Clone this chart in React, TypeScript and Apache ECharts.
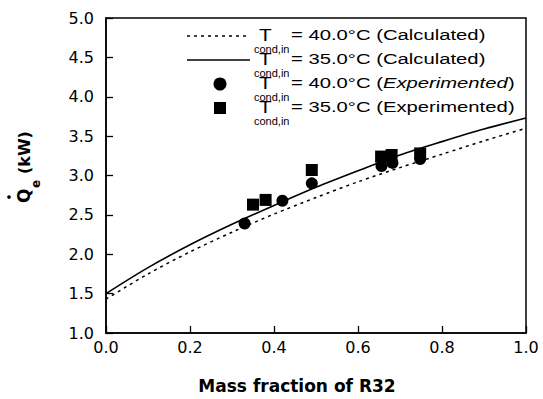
import React, { useEffect, useRef } from "react";
import * as echarts from "echarts";

// Calculated curves (mass fraction of R32 vs cooling capacity, kW)
const calcX = [0, 0.1, 0.2, 0.3, 0.4, 0.5, 0.6, 0.7, 0.8, 0.9, 1.0];
const calc40 = [1.43, 1.75, 2.03, 2.28, 2.51, 2.72, 2.92, 3.1, 3.27, 3.44, 3.6];
const calc35 = [1.5, 1.83, 2.12, 2.38, 2.62, 2.85, 3.06, 3.26, 3.43, 3.59, 3.73];

// Experimental points
const exp40X = [0.33, 0.42, 0.49, 0.656, 0.682, 0.748];
const exp40Y = [2.39, 2.68, 2.9, 3.12, 3.16, 3.21];
const exp35X = [0.35, 0.38, 0.49, 0.655, 0.68, 0.748];
const exp35Y = [2.63, 2.69, 3.07, 3.24, 3.26, 3.28];

const legendTexts = [
  "= 40.0°C (Calculated)",
  "= 35.0°C (Calculated)",
  "= 40.0°C (Experimented)",
  "= 35.0°C (Experimented)",
];

const FONT = "'Liberation Sans', Arial, Helvetica, sans-serif";
const WFONT = "'DejaVu Sans', Verdana, sans-serif";

export default function App() {
  const ref = useRef<HTMLDivElement>(null);

  useEffect(() => {
    if (!ref.current) return;
    const chart = echarts.init(ref.current, null, { renderer: "svg" });

    const rowY = [36, 60, 84, 108];
    const legendGraphics: any[] = [];
    legendGraphics.push({
      type: "line",
      shape: { x1: 187, y1: rowY[0], x2: 250, y2: rowY[0] },
      style: { stroke: "#000", lineWidth: 1.5, lineDash: [3, 4] },
    });
    legendGraphics.push({
      type: "line",
      shape: { x1: 187, y1: rowY[1], x2: 250, y2: rowY[1] },
      style: { stroke: "#000", lineWidth: 1.6 },
    });
    legendGraphics.push({
      type: "circle",
      shape: { cx: 220, cy: rowY[2], r: 6.5 },
      style: { fill: "#000" },
    });
    legendGraphics.push({
      type: "rect",
      shape: { x: 214, y: rowY[3] - 6, width: 12, height: 12 },
      style: { fill: "#000" },
    });
    legendTexts.forEach((t, i) => {
      const y = rowY[i];
      legendGraphics.push({
        type: "text",
        x: 259,
        y: y - 1,
        scaleX: 1.3,
        style: {
          text: "T",
          font: `16px ${FONT}`,
          fill: "#000",
          verticalAlign: "middle",
        },
      });
      legendGraphics.push({
        type: "text",
        x: 254,
        y: y + 13,
        scaleX: 1.1,
        style: {
          text: "cond,in",
          font: `10px ${FONT}`,
          fill: "#000",
          verticalAlign: "middle",
        },
      });
      const italic = i === 2;
      const parts = t.split("(");
      legendGraphics.push({
        type: "text",
        x: 291,
        y: y - 1,
        scaleX: 1.35,
        style: {
          text: `{a|${parts[0]}}{b|(}{${italic ? "c" : "a"}|${parts[1].replace(")", "")}}{b|)}`,
          fill: "#000",
          verticalAlign: "middle",
          rich: {
            a: { fontFamily: FONT, fontSize: 15, fill: "#000" },
            b: { fontFamily: FONT, fontSize: 15, fill: "#000" },
            c: { fontFamily: FONT, fontSize: 15, fontStyle: "italic", fill: "#000" },
          },
        },
      });
    });

    // y-axis name (rotated, reads bottom to top)
    const yName = {
      type: "group",
      x: 14,
      y: 203,
      rotation: Math.PI / 2,
      children: [
        {
          type: "text",
          x: 0,
          y: 10,
          style: {
            text: "Q",
            font: `bold 17px ${WFONT}`,
            fill: "#000",
            verticalAlign: "middle",
          },
        },
        { type: "circle", shape: { cx: 6, cy: -5, r: 1.8 }, style: { fill: "#000" } },
        {
          type: "text",
          x: 15,
          y: 22,
          style: {
            text: "e",
            font: `bold 12px ${WFONT}`,
            fill: "#000",
            verticalAlign: "middle",
          },
        },
        {
          type: "text",
          x: 29,
          y: 10,
          style: {
            text: "(kW)",
            font: `bold 16px ${WFONT}`,
            fill: "#000",
            verticalAlign: "middle",
          },
        },
      ],
    };

    const axisCommon = {
      axisLine: { show: true, lineStyle: { color: "#000", width: 1.5 } },
      axisTick: { show: true, inside: true, length: 7, lineStyle: { color: "#000", width: 1.3 } },
      splitLine: { show: false },
    };

    chart.setOption({
      animation: false,
      backgroundColor: "#fff",
      grid: {
        left: 106,
        right: 17,
        top: 18,
        bottom: 63,
        show: true,
        borderColor: "#000",
        borderWidth: 1.5,
      },
      xAxis: {
        type: "value",
        min: 0,
        max: 1,
        interval: 0.2,
        ...axisCommon,
        axisLabel: {
          formatter: (v: number) => v.toFixed(1),
          color: "#000",
          fontFamily: WFONT,
          fontSize: 16,
          margin: 6,
        },
        name: "Mass fraction of R32",
        nameLocation: "middle",
        nameGap: 44,
        nameTextStyle: {
          fontFamily: WFONT,
          fontWeight: "bold",
          fontSize: 17,
          color: "#000",
          padding: [0, 38, 0, 0],
        },
      },
      yAxis: {
        type: "value",
        min: 1,
        max: 5,
        interval: 0.5,
        ...axisCommon,
        axisLabel: {
          formatter: (v: number) => v.toFixed(1),
          color: "#000",
          fontFamily: WFONT,
          fontSize: 16,
          margin: 12,
        },
      },
      graphic: [...legendGraphics, yName],
      series: [
        {
          type: "line",
          data: calcX.map((x, i) => [x, calc40[i]]),
          smooth: 0.3,
          showSymbol: false,
          lineStyle: { color: "#000", width: 1.5, type: [3, 4] },
        },
        {
          type: "line",
          data: calcX.map((x, i) => [x, calc35[i]]),
          smooth: 0.3,
          showSymbol: false,
          lineStyle: { color: "#000", width: 1.6 },
        },
        {
          type: "scatter",
          data: exp40X.map((x, i) => [x, exp40Y[i]]),
          symbol: "circle",
          symbolSize: 12,
          itemStyle: { color: "#000", opacity: 1 },
        },
        {
          type: "scatter",
          data: exp35X.map((x, i) => [x, exp35Y[i]]),
          symbol: "rect",
          symbolSize: 12,
          itemStyle: { color: "#000", opacity: 1 },
        },
      ],
    });

    return () => chart.dispose();
  }, []);

  return (
    <div
      ref={ref}
      style={{ position: "absolute", left: 0, top: 0, width: 543, height: 399 }}
    />
  );
}
